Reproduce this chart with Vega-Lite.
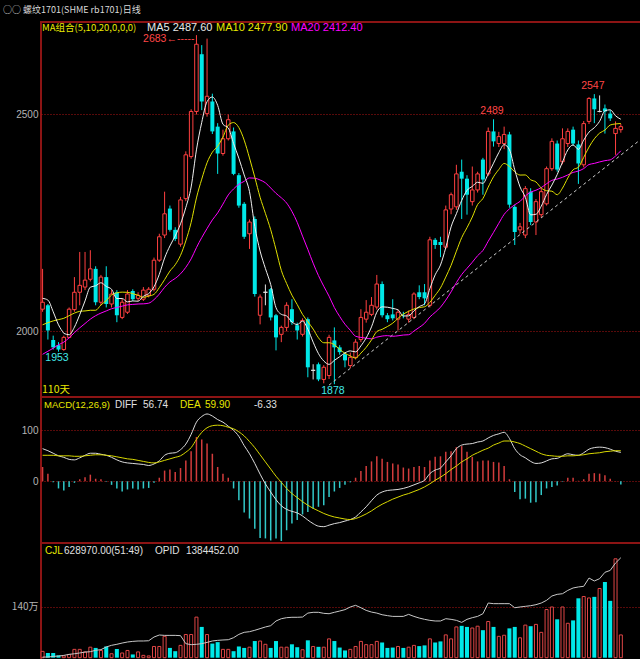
{
"$schema": "https://vega.github.io/schema/vega-lite/v6.json",
"background": "#000000",
"padding": {"left": 0, "right": 0, "top": 5, "bottom": 0},
"title": {"text": "○○ 螺纹1701(SHME rb1701)日线", "anchor": "start", "frame": "bounds", "font": "Noto Sans CJK SC", "fontSize": 9, "fontWeight": "normal", "color": "#d8d8d8", "offset": 6, "dx": 3},
"spacing": 0,
"bounds": "flush",
"config": {
  "view": {"stroke": "#8c1414", "strokeWidth": 2},
  "scale": {"continuousPadding": 0},
  "axis": {"labelColor": "#b4b4b4", "labelFont": "Liberation Sans", "labelFontSize": 10, "ticks": false, "domain": false, "grid": true, "gridColor": "#b01414", "gridDash": [1, 2], "gridOpacity": 1, "labelPadding": 3, "minExtent": 40, "maxExtent": 40, "format": "d"}
},
"datasets": {
"candles": [
{"day":0,"open":2051,"high":2144,"low":2045,"close":2067,"volume":175000,"oi":605000,"diff":64,"dea":51,"macd":28},
{"day":1,"open":2060,"high":2063,"low":1981,"close":2002,"volume":130000,"oi":605000,"diff":60,"dea":51,"macd":15},
{"day":2,"open":1980,"high":1990,"low":1958,"close":1963,"volume":130000,"oi":610000,"diff":55,"dea":51,"macd":-2},
{"day":3,"open":1968,"high":1975,"low":1953,"close":1958,"volume":65000,"oi":613000,"diff":50,"dea":50,"macd":-14},
{"day":4,"open":1958,"high":1990,"low":1955,"close":1986,"volume":50000,"oi":618000,"diff":47,"dea":50,"macd":-18},
{"day":5,"open":1986,"high":2055,"low":1984,"close":2051,"volume":90000,"oi":626000,"diff":43,"dea":50,"macd":-11},
{"day":6,"open":2050,"high":2125,"low":2045,"close":2090,"volume":230000,"oi":631000,"diff":42,"dea":49,"macd":-3},
{"day":7,"open":2090,"high":2183,"low":2060,"close":2106,"volume":230000,"oi":637000,"diff":46,"dea":49,"macd":4},
{"day":8,"open":2102,"high":2183,"low":2095,"close":2118,"volume":160000,"oi":644000,"diff":51,"dea":50,"macd":8},
{"day":9,"open":2120,"high":2187,"low":2115,"close":2144,"volume":290000,"oi":647000,"diff":55,"dea":51,"macd":13},
{"day":10,"open":2144,"high":2150,"low":2060,"close":2067,"volume":270000,"oi":658000,"diff":55,"dea":52,"macd":5},
{"day":11,"open":2067,"high":2130,"low":2060,"close":2125,"volume":200000,"oi":663000,"diff":53,"dea":52,"macd":4},
{"day":12,"open":2125,"high":2150,"low":2055,"close":2063,"volume":310000,"oi":684000,"diff":51,"dea":51,"macd":-1},
{"day":13,"open":2063,"high":2095,"low":2055,"close":2086,"volume":110000,"oi":697000,"diff":47,"dea":50,"macd":-7},
{"day":14,"open":2090,"high":2095,"low":2021,"close":2037,"volume":240000,"oi":705000,"diff":42,"dea":48,"macd":-14},
{"day":15,"open":2032,"high":2075,"low":2028,"close":2067,"volume":130000,"oi":715000,"diff":38,"dea":46,"macd":-20},
{"day":16,"open":2044,"high":2095,"low":2040,"close":2086,"volume":200000,"oi":723000,"diff":36,"dea":44,"macd":-16},
{"day":17,"open":2093,"high":2097,"low":2070,"close":2074,"volume":90000,"oi":728000,"diff":35,"dea":43,"macd":-14},
{"day":18,"open":2076,"high":2090,"low":2070,"close":2083,"volume":160000,"oi":731000,"diff":34,"dea":41,"macd":-16},
{"day":19,"open":2074,"high":2102,"low":2070,"close":2095,"volume":65000,"oi":731000,"diff":33,"dea":39,"macd":-14},
{"day":20,"open":2083,"high":2102,"low":2078,"close":2097,"volume":50000,"oi":733000,"diff":31,"dea":37,"macd":-13},
{"day":21,"open":2097,"high":2170,"low":2092,"close":2164,"volume":310000,"oi":762000,"diff":34,"dea":36,"macd":-3},
{"day":22,"open":2164,"high":2225,"low":2160,"close":2218,"volume":310000,"oi":778000,"diff":40,"dea":38,"macd":7},
{"day":23,"open":2222,"high":2322,"low":2215,"close":2271,"volume":590000,"oi":775000,"diff":51,"dea":41,"macd":21},
{"day":24,"open":2283,"high":2290,"low":2230,"close":2234,"volume":270000,"oi":775000,"diff":55,"dea":44,"macd":23},
{"day":25,"open":2234,"high":2240,"low":2208,"close":2213,"volume":180000,"oi":775000,"diff":56,"dea":47,"macd":18},
{"day":26,"open":2201,"high":2310,"low":2195,"close":2303,"volume":340000,"oi":773000,"diff":62,"dea":50,"macd":26},
{"day":27,"open":2306,"high":2415,"low":2300,"close":2407,"volume":640000,"oi":710000,"diff":73,"dea":57,"macd":41},
{"day":28,"open":2403,"high":2512,"low":2398,"close":2507,"volume":640000,"oi":702000,"diff":92,"dea":66,"macd":59},
{"day":29,"open":2507,"high":2683,"low":2500,"close":2662,"volume":1120000,"oi":705000,"diff":116,"dea":82,"macd":87},
{"day":30,"open":2639,"high":2660,"low":2510,"close":2530,"volume":850000,"oi":710000,"diff":127,"dea":96,"macd":82},
{"day":31,"open":2502,"high":2675,"low":2495,"close":2542,"volume":640000,"oi":720000,"diff":132,"dea":105,"macd":74},
{"day":32,"open":2530,"high":2548,"low":2455,"close":2461,"volume":390000,"oi":731000,"diff":128,"dea":109,"macd":54},
{"day":33,"open":2472,"high":2480,"low":2363,"close":2410,"volume":430000,"oi":736000,"diff":121,"dea":110,"macd":28},
{"day":34,"open":2410,"high":2465,"low":2405,"close":2444,"volume":230000,"oi":739000,"diff":116,"dea":109,"macd":15},
{"day":35,"open":2444,"high":2500,"low":2440,"close":2488,"volume":230000,"oi":741000,"diff":108,"dea":106,"macd":7},
{"day":36,"open":2461,"high":2470,"low":2360,"close":2363,"volume":180000,"oi":757000,"diff":100,"dea":103,"macd":-14},
{"day":37,"open":2360,"high":2365,"low":2285,"close":2290,"volume":310000,"oi":783000,"diff":88,"dea":97,"macd":-37},
{"day":38,"open":2294,"high":2298,"low":2213,"close":2218,"volume":270000,"oi":799000,"diff":70,"dea":89,"macd":-61},
{"day":39,"open":2225,"high":2258,"low":2190,"close":2252,"volume":290000,"oi":804000,"diff":54,"dea":78,"macd":-73},
{"day":40,"open":2259,"high":2265,"low":2080,"close":2086,"volume":460000,"oi":815000,"diff":35,"dea":66,"macd":-93},
{"day":41,"open":2037,"high":2085,"low":2016,"close":2079,"volume":460000,"oi":828000,"diff":14,"dea":52,"macd":-111},
{"day":42,"open":2090,"high":2108,"low":2060,"close":2090,"volume":370000,"oi":841000,"diff":-5,"dea":38,"macd":-112},
{"day":43,"open":2097,"high":2100,"low":2025,"close":2032,"volume":270000,"oi":851000,"diff":-21,"dea":24,"macd":-116},
{"day":44,"open":2037,"high":2040,"low":1956,"close":1986,"volume":460000,"oi":888000,"diff":-36,"dea":10,"macd":-112},
{"day":45,"open":1993,"high":2013,"low":1975,"close":2009,"volume":290000,"oi":906000,"diff":-48,"dea":-2,"macd":-117},
{"day":46,"open":2009,"high":2067,"low":2000,"close":2060,"volume":290000,"oi":914000,"diff":-55,"dea":-14,"macd":-96},
{"day":47,"open":2051,"high":2074,"low":2015,"close":2021,"volume":370000,"oi":917000,"diff":-59,"dea":-24,"macd":-83},
{"day":48,"open":2014,"high":2020,"low":1981,"close":2002,"volume":290000,"oi":917000,"diff":-62,"dea":-32,"macd":-76},
{"day":49,"open":1993,"high":2030,"low":1988,"close":2025,"volume":220000,"oi":919000,"diff":-68,"dea":-40,"macd":-65},
{"day":50,"open":2028,"high":2032,"low":1894,"close":1917,"volume":480000,"oi":950000,"diff":-76,"dea":-47,"macd":-60},
{"day":51,"open":1910,"high":1924,"low":1889,"close":1910,"volume":310000,"oi":956000,"diff":-83,"dea":-53,"macd":-54},
{"day":52,"open":1924,"high":1928,"low":1885,"close":1889,"volume":300000,"oi":956000,"diff":-88,"dea":-58,"macd":-50},
{"day":53,"open":1889,"high":1922,"low":1880,"close":1917,"volume":290000,"oi":948000,"diff":-89,"dea":-63,"macd":-47},
{"day":54,"open":1898,"high":1992,"low":1890,"close":1986,"volume":520000,"oi":945000,"diff":-86,"dea":-67,"macd":-31},
{"day":55,"open":1979,"high":2009,"low":1878,"close":1963,"volume":460000,"oi":956000,"diff":-83,"dea":-70,"macd":-20},
{"day":56,"open":1963,"high":1968,"low":1946,"close":1952,"volume":280000,"oi":966000,"diff":-81,"dea":-72,"macd":-13},
{"day":57,"open":1947,"high":1951,"low":1917,"close":1933,"volume":200000,"oi":977000,"diff":-78,"dea":-74,"macd":-7},
{"day":58,"open":1921,"high":1951,"low":1915,"close":1940,"volume":230000,"oi":998000,"diff":-75,"dea":-75,"macd":-2},
{"day":59,"open":1940,"high":1982,"low":1935,"close":1975,"volume":310000,"oi":1011000,"diff":-70,"dea":-73,"macd":7},
{"day":60,"open":1981,"high":2051,"low":1975,"close":2032,"volume":450000,"oi":992000,"diff":-60,"dea":-69,"macd":20},
{"day":61,"open":2028,"high":2072,"low":2020,"close":2044,"volume":360000,"oi":971000,"diff":-50,"dea":-64,"macd":30},
{"day":62,"open":2039,"high":2079,"low":2035,"close":2060,"volume":360000,"oi":958000,"diff":-38,"dea":-58,"macd":39},
{"day":63,"open":2056,"high":2130,"low":2050,"close":2109,"volume":450000,"oi":950000,"diff":-27,"dea":-51,"macd":49},
{"day":64,"open":2109,"high":2115,"low":2032,"close":2037,"volume":420000,"oi":937000,"diff":-21,"dea":-45,"macd":44},
{"day":65,"open":2037,"high":2042,"low":2021,"close":2028,"volume":270000,"oi":930000,"diff":-18,"dea":-40,"macd":38},
{"day":66,"open":2039,"high":2074,"low":2025,"close":2030,"volume":280000,"oi":924000,"diff":-17,"dea":-35,"macd":35},
{"day":67,"open":2028,"high":2050,"low":2002,"close":2044,"volume":310000,"oi":924000,"diff":-16,"dea":-31,"macd":33},
{"day":68,"open":2038,"high":2045,"low":2030,"close":2037,"volume":270000,"oi":924000,"diff":-14,"dea":-27,"macd":27},
{"day":69,"open":2028,"high":2048,"low":2020,"close":2039,"volume":290000,"oi":940000,"diff":-11,"dea":-24,"macd":25},
{"day":70,"open":2032,"high":2090,"low":2028,"close":2086,"volume":340000,"oi":924000,"diff":-7,"dea":-20,"macd":28},
{"day":71,"open":2090,"high":2106,"low":2074,"close":2079,"volume":320000,"oi":911000,"diff":-3,"dea":-16,"macd":30},
{"day":72,"open":2090,"high":2109,"low":2060,"close":2076,"volume":340000,"oi":901000,"diff":2,"dea":-11,"macd":28},
{"day":73,"open":2060,"high":2218,"low":2055,"close":2211,"volume":520000,"oi":893000,"diff":15,"dea":-5,"macd":41},
{"day":74,"open":2211,"high":2215,"low":2190,"close":2199,"volume":420000,"oi":888000,"diff":22,"dea":2,"macd":48},
{"day":75,"open":2206,"high":2218,"low":2171,"close":2199,"volume":450000,"oi":888000,"diff":26,"dea":8,"macd":49},
{"day":76,"open":2194,"high":2290,"low":2190,"close":2280,"volume":630000,"oi":906000,"diff":38,"dea":15,"macd":58},
{"day":77,"open":2282,"high":2320,"low":2270,"close":2315,"volume":520000,"oi":901000,"diff":50,"dea":23,"macd":59},
{"day":78,"open":2287,"high":2384,"low":2280,"close":2363,"volume":850000,"oi":893000,"diff":64,"dea":30,"macd":67},
{"day":79,"open":2368,"high":2396,"low":2259,"close":2352,"volume":880000,"oi":877000,"diff":71,"dea":38,"macd":69},
{"day":80,"open":2352,"high":2360,"low":2269,"close":2315,"volume":850000,"oi":901000,"diff":73,"dea":44,"macd":58},
{"day":81,"open":2299,"high":2380,"low":2290,"close":2326,"volume":820000,"oi":914000,"diff":74,"dea":51,"macd":48},
{"day":82,"open":2326,"high":2368,"low":2320,"close":2363,"volume":870000,"oi":924000,"diff":77,"dea":56,"macd":39},
{"day":83,"open":2396,"high":2400,"low":2315,"close":2350,"volume":760000,"oi":945000,"diff":79,"dea":61,"macd":41},
{"day":84,"open":2363,"high":2470,"low":2358,"close":2461,"volume":1000000,"oi":1029000,"diff":85,"dea":65,"macd":41},
{"day":85,"open":2461,"high":2489,"low":2426,"close":2438,"volume":850000,"oi":1024000,"diff":90,"dea":71,"macd":38},
{"day":86,"open":2433,"high":2460,"low":2425,"close":2449,"volume":590000,"oi":1024000,"diff":93,"dea":75,"macd":37},
{"day":87,"open":2433,"high":2472,"low":2420,"close":2454,"volume":620000,"oi":1024000,"diff":96,"dea":79,"macd":30},
{"day":88,"open":2454,"high":2460,"low":2285,"close":2292,"volume":810000,"oi":1024000,"diff":84,"dea":79,"macd":4},
{"day":89,"open":2287,"high":2292,"low":2199,"close":2229,"volume":850000,"oi":992000,"diff":64,"dea":77,"macd":-21},
{"day":90,"open":2234,"high":2250,"low":2225,"close":2241,"volume":550000,"oi":998000,"diff":52,"dea":74,"macd":-35},
{"day":91,"open":2222,"high":2335,"low":2215,"close":2329,"volume":900000,"oi":1003000,"diff":46,"dea":69,"macd":-34},
{"day":92,"open":2322,"high":2330,"low":2245,"close":2252,"volume":870000,"oi":1008000,"diff":39,"dea":64,"macd":-42},
{"day":93,"open":2252,"high":2305,"low":2222,"close":2299,"volume":920000,"oi":1016000,"diff":35,"dea":59,"macd":-41},
{"day":94,"open":2269,"high":2330,"low":2262,"close":2322,"volume":700000,"oi":1029000,"diff":36,"dea":54,"macd":-27},
{"day":95,"open":2294,"high":2380,"low":2290,"close":2375,"volume":1330000,"oi":1050000,"diff":40,"dea":51,"macd":-14},
{"day":96,"open":2375,"high":2445,"low":2370,"close":2438,"volume":1400000,"oi":1084000,"diff":44,"dea":50,"macd":-11},
{"day":97,"open":2433,"high":2440,"low":2368,"close":2373,"volume":1060000,"oi":1097000,"diff":45,"dea":49,"macd":-8},
{"day":98,"open":2391,"high":2468,"low":2385,"close":2444,"volume":1400000,"oi":1102000,"diff":50,"dea":49,"macd":-1},
{"day":99,"open":2433,"high":2468,"low":2425,"close":2461,"volume":950000,"oi":1128000,"diff":54,"dea":50,"macd":7},
{"day":100,"open":2465,"high":2472,"low":2428,"close":2433,"volume":1030000,"oi":1147000,"diff":52,"dea":50,"macd":7},
{"day":101,"open":2431,"high":2440,"low":2340,"close":2387,"volume":1640000,"oi":1155000,"diff":51,"dea":51,"macd":1},
{"day":102,"open":2384,"high":2485,"low":2378,"close":2479,"volume":1690000,"oi":1160000,"diff":56,"dea":52,"macd":4},
{"day":103,"open":2484,"high":2540,"low":2478,"close":2537,"volume":1650000,"oi":1225000,"diff":63,"dea":54,"macd":15},
{"day":104,"open":2537,"high":2547,"low":2480,"close":2512,"volume":1680000,"oi":1202000,"diff":66,"dea":55,"macd":16},
{"day":105,"open":2507,"high":2544,"low":2505,"close":2507,"volume":1910000,"oi":1220000,"diff":67,"dea":56,"macd":15},
{"day":106,"open":2514,"high":2523,"low":2456,"close":2507,"volume":2090000,"oi":1270000,"diff":66,"dea":58,"macd":12},
{"day":107,"open":2502,"high":2510,"low":2485,"close":2491,"volume":1570000,"oi":1285000,"diff":63,"dea":59,"macd":5},
{"day":108,"open":2456,"high":2484,"low":2407,"close":2468,"volume":2730000,"oi":1343000,"diff":59,"dea":60,"macd":0.5},
{"day":109,"open":2465,"high":2478,"low":2458,"close":2472,"volume":628970,"oi":1384452,"diff":56.74,"dea":59.9,"macd":-6.33}
],
"ma_early": [
{"line":"MA5","day":0,"value":2076},{"line":"MA5","day":1,"value":2072},{"line":"MA5","day":2,"value":2045},{"line":"MA5","day":3,"value":2015},{"line":"MA5","day":4,"value":1995.2},
{"line":"MA10","day":0,"value":2015},{"line":"MA10","day":1,"value":2020},{"line":"MA10","day":2,"value":2024},{"line":"MA10","day":3,"value":2027},{"line":"MA10","day":4,"value":2030},{"line":"MA10","day":5,"value":2036},{"line":"MA10","day":6,"value":2042},{"line":"MA10","day":7,"value":2046},{"line":"MA10","day":8,"value":2047},{"line":"MA10","day":9,"value":2048.5},
{"line":"MA20","day":0,"value":1947},{"line":"MA20","day":1,"value":1954},{"line":"MA20","day":2,"value":1961},{"line":"MA20","day":3,"value":1969},{"line":"MA20","day":4,"value":1975},{"line":"MA20","day":5,"value":1985},{"line":"MA20","day":6,"value":1997},{"line":"MA20","day":7,"value":2008},{"line":"MA20","day":8,"value":2018},{"line":"MA20","day":9,"value":2028},{"line":"MA20","day":10,"value":2036},{"line":"MA20","day":11,"value":2042},{"line":"MA20","day":12,"value":2047},{"line":"MA20","day":13,"value":2052},{"line":"MA20","day":14,"value":2055},{"line":"MA20","day":15,"value":2058},{"line":"MA20","day":16,"value":2061},{"line":"MA20","day":17,"value":2062},{"line":"MA20","day":18,"value":2063},{"line":"MA20","day":19,"value":2063.4}
],
"trend": [{"day": 54, "price": 1876}, {"day": 112.8, "price": 2443}],
"notes": [
{"day": 29, "price": 2683, "label": "2683←-----", "kind": "peak"},
{"day": 85, "price": 2489, "label": "2489", "kind": "high"},
{"day": 104, "price": 2547, "label": "2547", "kind": "high"},
{"day": 3, "price": 1953, "label": "1953", "kind": "low"},
{"day": 55, "price": 1878, "label": "1878", "kind": "low"}
]
},
"vconcat": [
{
"width": 600, "height": 375,
"layer": [
{"data": {"name": "candles"}, "mark": {"type": "rule", "strokeWidth": 1},
 "encoding": {
  "x": {"field": "day", "type": "quantitative", "scale": {"domain": [-0.3, 112.8], "nice": false, "zero": false, "padding": 0}, "axis": null},
  "y": {"field": "low", "type": "quantitative", "title": null, "scale": {"domain": [1848.5, 2713.3], "nice": false, "zero": false}, "axis": {"values": [2000, 2500]}},
  "y2": {"field": "high"},
  "color": {"condition": [{"test": "datum.close > datum.open", "value": "#ff4040"}, {"test": "datum.close == datum.open", "value": "#e0e0e0"}], "value": "#00e8e8"}}},
{"data": {"name": "candles"}, "transform": [{"filter": "datum.close > datum.open"}],
 "mark": {"type": "bar", "size": 3.5, "fill": "#000000", "stroke": "#ff4040", "strokeWidth": 1},
 "encoding": {
  "x": {"field": "day", "type": "quantitative", "scale": {"domain": [-0.3, 112.8], "nice": false, "zero": false, "padding": 0}, "axis": null},
  "y": {"field": "open", "type": "quantitative", "title": null, "scale": {"domain": [1848.5, 2713.3], "nice": false, "zero": false}, "axis": {"values": [2000, 2500]}},
  "y2": {"field": "close"}}},
{"data": {"name": "candles"}, "transform": [{"filter": "datum.close < datum.open"}],
 "mark": {"type": "bar", "size": 4, "fill": "#00e8e8"},
 "encoding": {
  "x": {"field": "day", "type": "quantitative", "scale": {"domain": [-0.3, 112.8], "nice": false, "zero": false, "padding": 0}, "axis": null},
  "y": {"field": "open", "type": "quantitative", "title": null, "scale": {"domain": [1848.5, 2713.3], "nice": false, "zero": false}, "axis": {"values": [2000, 2500]}},
  "y2": {"field": "close"}}},
{"data": {"name": "candles"}, "transform": [{"filter": "datum.close == datum.open"}],
 "mark": {"type": "bar", "size": 4, "fill": "#e0e0e0", "stroke": "#e0e0e0", "strokeWidth": 1},
 "encoding": {
  "x": {"field": "day", "type": "quantitative", "scale": {"domain": [-0.3, 112.8], "nice": false, "zero": false, "padding": 0}, "axis": null},
  "y": {"field": "open", "type": "quantitative", "title": null, "scale": {"domain": [1848.5, 2713.3], "nice": false, "zero": false}, "axis": {"values": [2000, 2500]}},
  "y2": {"field": "close"}}},
{"data": {"name": "trend"}, "mark": {"type": "line", "color": "#d0d0d0", "strokeWidth": 1, "strokeDash": [3, 3]},
 "encoding": {
  "x": {"field": "day", "type": "quantitative", "scale": {"domain": [-0.3, 112.8], "nice": false, "zero": false, "padding": 0}, "axis": null},
  "y": {"field": "price", "type": "quantitative", "title": null, "scale": {"domain": [1848.5, 2713.3], "nice": false, "zero": false}, "axis": {"values": [2000, 2500]}}}},
{"data": {"name": "candles"}, "transform": [{"window": [{"op": "mean", "field": "close", "as": "ma"}], "frame": [-19, 0], "sort": [{"field": "day", "order": "ascending"}]}, {"filter": "datum.day >= 19"}],
 "mark": {"type": "line", "color": "#ff00ff", "strokeWidth": 1, "interpolate": "monotone"},
 "encoding": {
  "x": {"field": "day", "type": "quantitative", "scale": {"domain": [-0.3, 112.8], "nice": false, "zero": false, "padding": 0}, "axis": null},
  "y": {"field": "ma", "type": "quantitative", "title": null, "scale": {"domain": [1848.5, 2713.3], "nice": false, "zero": false}, "axis": {"values": [2000, 2500]}}}},
{"data": {"name": "ma_early"}, "transform": [{"filter": "datum.line == 'MA20'"}],
 "mark": {"type": "line", "color": "#ff00ff", "strokeWidth": 1, "interpolate": "monotone"},
 "encoding": {
  "x": {"field": "day", "type": "quantitative", "scale": {"domain": [-0.3, 112.8], "nice": false, "zero": false, "padding": 0}, "axis": null},
  "y": {"field": "value", "type": "quantitative", "title": null, "scale": {"domain": [1848.5, 2713.3], "nice": false, "zero": false}, "axis": {"values": [2000, 2500]}}}},
{"data": {"name": "candles"}, "transform": [{"window": [{"op": "mean", "field": "close", "as": "ma"}], "frame": [-9, 0], "sort": [{"field": "day", "order": "ascending"}]}, {"filter": "datum.day >= 9"}],
 "mark": {"type": "line", "color": "#e0e000", "strokeWidth": 1, "interpolate": "monotone"},
 "encoding": {
  "x": {"field": "day", "type": "quantitative", "scale": {"domain": [-0.3, 112.8], "nice": false, "zero": false, "padding": 0}, "axis": null},
  "y": {"field": "ma", "type": "quantitative", "title": null, "scale": {"domain": [1848.5, 2713.3], "nice": false, "zero": false}, "axis": {"values": [2000, 2500]}}}},
{"data": {"name": "ma_early"}, "transform": [{"filter": "datum.line == 'MA10'"}],
 "mark": {"type": "line", "color": "#e0e000", "strokeWidth": 1, "interpolate": "monotone"},
 "encoding": {
  "x": {"field": "day", "type": "quantitative", "scale": {"domain": [-0.3, 112.8], "nice": false, "zero": false, "padding": 0}, "axis": null},
  "y": {"field": "value", "type": "quantitative", "title": null, "scale": {"domain": [1848.5, 2713.3], "nice": false, "zero": false}, "axis": {"values": [2000, 2500]}}}},
{"data": {"name": "candles"}, "transform": [{"window": [{"op": "mean", "field": "close", "as": "ma"}], "frame": [-4, 0], "sort": [{"field": "day", "order": "ascending"}]}, {"filter": "datum.day >= 4"}],
 "mark": {"type": "line", "color": "#f0f0f0", "strokeWidth": 1, "interpolate": "monotone"},
 "encoding": {
  "x": {"field": "day", "type": "quantitative", "scale": {"domain": [-0.3, 112.8], "nice": false, "zero": false, "padding": 0}, "axis": null},
  "y": {"field": "ma", "type": "quantitative", "title": null, "scale": {"domain": [1848.5, 2713.3], "nice": false, "zero": false}, "axis": {"values": [2000, 2500]}}}},
{"data": {"name": "ma_early"}, "transform": [{"filter": "datum.line == 'MA5'"}],
 "mark": {"type": "line", "color": "#f0f0f0", "strokeWidth": 1, "interpolate": "monotone"},
 "encoding": {
  "x": {"field": "day", "type": "quantitative", "scale": {"domain": [-0.3, 112.8], "nice": false, "zero": false, "padding": 0}, "axis": null},
  "y": {"field": "value", "type": "quantitative", "title": null, "scale": {"domain": [1848.5, 2713.3], "nice": false, "zero": false}, "axis": {"values": [2000, 2500]}}}},
{"data": {"name": "notes"}, "transform": [{"filter": "datum.kind == 'peak'"}],
 "mark": {"type": "text", "align": "right", "baseline": "middle", "dx": -2, "dy": 4, "color": "#ff4646", "font": "Liberation Sans", "fontSize": 10.5},
 "encoding": {
  "x": {"field": "day", "type": "quantitative", "scale": {"domain": [-0.3, 112.8], "nice": false, "zero": false, "padding": 0}, "axis": null},
  "y": {"field": "price", "type": "quantitative", "title": null, "scale": {"domain": [1848.5, 2713.3], "nice": false, "zero": false}, "axis": {"values": [2000, 2500]}},
  "text": {"field": "label"}}},
{"data": {"name": "notes"}, "transform": [{"filter": "datum.kind == 'high'"}],
 "mark": {"type": "text", "align": "center", "baseline": "bottom", "dx": -1.5, "dy": -3, "color": "#ff4646", "font": "Liberation Sans", "fontSize": 10.5},
 "encoding": {
  "x": {"field": "day", "type": "quantitative", "scale": {"domain": [-0.3, 112.8], "nice": false, "zero": false, "padding": 0}, "axis": null},
  "y": {"field": "price", "type": "quantitative", "title": null, "scale": {"domain": [1848.5, 2713.3], "nice": false, "zero": false}, "axis": {"values": [2000, 2500]}},
  "text": {"field": "label"}}},
{"data": {"name": "notes"}, "transform": [{"filter": "datum.kind == 'low'"}],
 "mark": {"type": "text", "align": "center", "baseline": "top", "dx": -1.5, "dy": 1.5, "color": "#40e8e8", "font": "Liberation Sans", "fontSize": 10.5},
 "encoding": {
  "x": {"field": "day", "type": "quantitative", "scale": {"domain": [-0.3, 112.8], "nice": false, "zero": false, "padding": 0}, "axis": null},
  "y": {"field": "price", "type": "quantitative", "title": null, "scale": {"domain": [1848.5, 2713.3], "nice": false, "zero": false}, "axis": {"values": [2000, 2500]}},
  "text": {"field": "label"}}},
{"data": {"values": [{}]}, "mark": {"type": "text", "text": "MA组合(5,10,20,0,0,0)", "align": "left", "baseline": "middle", "color": "#e8e800", "font": "Noto Sans CJK SC", "fontSize": 9.5},
 "encoding": {"x": {"datum": -0.11, "type": "quantitative", "scale": {"domain": [-0.3, 112.8], "nice": false, "zero": false, "padding": 0}, "axis": null}, "y": {"datum": 2699.5, "type": "quantitative", "title": null, "scale": {"domain": [1848.5, 2713.3], "nice": false, "zero": false}, "axis": {"values": [2000, 2500]}}}},
{"data": {"values": [{}]}, "mark": {"type": "text", "text": "MA5 2487.60", "align": "left", "baseline": "middle", "color": "#e8e8e8", "font": "Liberation Sans", "fontSize": 11},
 "encoding": {"x": {"datum": 19.68, "type": "quantitative", "scale": {"domain": [-0.3, 112.8], "nice": false, "zero": false, "padding": 0}, "axis": null}, "y": {"datum": 2699.5, "type": "quantitative", "title": null, "scale": {"domain": [1848.5, 2713.3], "nice": false, "zero": false}, "axis": {"values": [2000, 2500]}}}},
{"data": {"values": [{}]}, "mark": {"type": "text", "text": "MA10 2477.90", "align": "left", "baseline": "middle", "color": "#e8e800", "font": "Liberation Sans", "fontSize": 11},
 "encoding": {"x": {"datum": 32.69, "type": "quantitative", "scale": {"domain": [-0.3, 112.8], "nice": false, "zero": false, "padding": 0}, "axis": null}, "y": {"datum": 2699.5, "type": "quantitative", "title": null, "scale": {"domain": [1848.5, 2713.3], "nice": false, "zero": false}, "axis": {"values": [2000, 2500]}}}},
{"data": {"values": [{}]}, "mark": {"type": "text", "text": "MA20 2412.40", "align": "left", "baseline": "middle", "color": "#ff00ff", "font": "Liberation Sans", "fontSize": 11},
 "encoding": {"x": {"datum": 46.83, "type": "quantitative", "scale": {"domain": [-0.3, 112.8], "nice": false, "zero": false, "padding": 0}, "axis": null}, "y": {"datum": 2699.5, "type": "quantitative", "title": null, "scale": {"domain": [1848.5, 2713.3], "nice": false, "zero": false}, "axis": {"values": [2000, 2500]}}}},
{"data": {"values": [{}]}, "mark": {"type": "text", "text": "110天", "align": "left", "baseline": "middle", "color": "#e8e800", "font": "Noto Sans CJK SC", "fontSize": 10.5},
 "encoding": {"x": {"datum": -0.11, "type": "quantitative", "scale": {"domain": [-0.3, 112.8], "nice": false, "zero": false, "padding": 0}, "axis": null}, "y": {"datum": 1864.7, "type": "quantitative", "title": null, "scale": {"domain": [1848.5, 2713.3], "nice": false, "zero": false}, "axis": {"values": [2000, 2500]}}}}
]
},
{
"width": 600, "height": 146,
"layer": [
{"data": {"name": "candles"}, "mark": {"type": "rule", "strokeWidth": 1.5},
 "encoding": {
  "x": {"field": "day", "type": "quantitative", "scale": {"domain": [-0.3, 112.8], "nice": false, "zero": false, "padding": 0}, "axis": null},
  "y": {"field": "macd", "type": "quantitative", "title": null, "scale": {"domain": [-121, 165.3], "nice": false, "zero": false}, "axis": {"values": [0, 100]}},
  "y2": {"datum": 0},
  "color": {"condition": {"test": "datum.macd >= 0", "value": "#d23c3c"}, "value": "#32c8c8"}}},
{"data": {"name": "candles"}, "mark": {"type": "line", "color": "#dcdcdc", "strokeWidth": 1, "interpolate": "monotone"},
 "encoding": {
  "x": {"field": "day", "type": "quantitative", "scale": {"domain": [-0.3, 112.8], "nice": false, "zero": false, "padding": 0}, "axis": null},
  "y": {"field": "diff", "type": "quantitative", "title": null, "scale": {"domain": [-121, 165.3], "nice": false, "zero": false}, "axis": {"values": [0, 100]}}}},
{"data": {"name": "candles"}, "mark": {"type": "line", "color": "#d8d800", "strokeWidth": 1, "interpolate": "monotone"},
 "encoding": {
  "x": {"field": "day", "type": "quantitative", "scale": {"domain": [-0.3, 112.8], "nice": false, "zero": false, "padding": 0}, "axis": null},
  "y": {"field": "dea", "type": "quantitative", "title": null, "scale": {"domain": [-121, 165.3], "nice": false, "zero": false}, "axis": {"values": [0, 100]}}}},
{"data": {"values": [{}]}, "mark": {"type": "text", "text": "MACD(12,26,9)", "align": "left", "baseline": "middle", "color": "#e8e800", "font": "Liberation Sans", "fontSize": 9.5},
 "encoding": {"x": {"datum": 0.27, "type": "quantitative", "scale": {"domain": [-0.3, 112.8], "nice": false, "zero": false, "padding": 0}, "axis": null}, "y": {"datum": 149.6, "type": "quantitative", "title": null, "scale": {"domain": [-121, 165.3], "nice": false, "zero": false}, "axis": {"values": [0, 100]}}}},
{"data": {"values": [{}]}, "mark": {"type": "text", "text": "DIFF", "align": "left", "baseline": "middle", "color": "#e0e0e0", "font": "Liberation Sans", "fontSize": 10},
 "encoding": {"x": {"datum": 13.65, "type": "quantitative", "scale": {"domain": [-0.3, 112.8], "nice": false, "zero": false, "padding": 0}, "axis": null}, "y": {"datum": 149.6, "type": "quantitative", "title": null, "scale": {"domain": [-121, 165.3], "nice": false, "zero": false}, "axis": {"values": [0, 100]}}}},
{"data": {"values": [{}]}, "mark": {"type": "text", "text": "56.74", "align": "left", "baseline": "middle", "color": "#e0e0e0", "font": "Liberation Sans", "fontSize": 10},
 "encoding": {"x": {"datum": 18.93, "type": "quantitative", "scale": {"domain": [-0.3, 112.8], "nice": false, "zero": false, "padding": 0}, "axis": null}, "y": {"datum": 149.6, "type": "quantitative", "title": null, "scale": {"domain": [-121, 165.3], "nice": false, "zero": false}, "axis": {"values": [0, 100]}}}},
{"data": {"values": [{}]}, "mark": {"type": "text", "text": "DEA", "align": "left", "baseline": "middle", "color": "#e8e800", "font": "Liberation Sans", "fontSize": 10},
 "encoding": {"x": {"datum": 25.9, "type": "quantitative", "scale": {"domain": [-0.3, 112.8], "nice": false, "zero": false, "padding": 0}, "axis": null}, "y": {"datum": 149.6, "type": "quantitative", "title": null, "scale": {"domain": [-121, 165.3], "nice": false, "zero": false}, "axis": {"values": [0, 100]}}}},
{"data": {"values": [{}]}, "mark": {"type": "text", "text": "59.90", "align": "left", "baseline": "middle", "color": "#e8e800", "font": "Liberation Sans", "fontSize": 10},
 "encoding": {"x": {"datum": 30.61, "type": "quantitative", "scale": {"domain": [-0.3, 112.8], "nice": false, "zero": false, "padding": 0}, "axis": null}, "y": {"datum": 149.6, "type": "quantitative", "title": null, "scale": {"domain": [-121, 165.3], "nice": false, "zero": false}, "axis": {"values": [0, 100]}}}},
{"data": {"values": [{}]}, "mark": {"type": "text", "text": "-6.33", "align": "left", "baseline": "middle", "color": "#e0e0e0", "font": "Liberation Sans", "fontSize": 10},
 "encoding": {"x": {"datum": 39.85, "type": "quantitative", "scale": {"domain": [-0.3, 112.8], "nice": false, "zero": false, "padding": 0}, "axis": null}, "y": {"datum": 149.6, "type": "quantitative", "title": null, "scale": {"domain": [-121, 165.3], "nice": false, "zero": false}, "axis": {"values": [0, 100]}}}}
]
},
{
"width": 600, "height": 118,
"resolve": {"scale": {"y": "independent"}},
"layer": [
{"data": {"name": "candles"}, "transform": [{"filter": "datum.close >= datum.open"}],
 "mark": {"type": "bar", "size": 3, "fill": "#000000", "stroke": "#e04646", "strokeWidth": 1},
 "encoding": {
  "x": {"field": "day", "type": "quantitative", "scale": {"domain": [-0.3, 112.8], "nice": false, "zero": false, "padding": 0}, "axis": null},
  "y": {"field": "volume", "type": "quantitative", "title": null, "scale": {"domain": [-91000, 3167000], "nice": false, "zero": false}, "axis": {"values": [1400000], "labelExpr": "'140万'", "labelFont": "Noto Sans CJK SC"}},
  "y2": {"datum": 0}}},
{"data": {"name": "candles"}, "transform": [{"filter": "datum.close < datum.open"}],
 "mark": {"type": "bar", "size": 4, "fill": "#00e8e8"},
 "encoding": {
  "x": {"field": "day", "type": "quantitative", "scale": {"domain": [-0.3, 112.8], "nice": false, "zero": false, "padding": 0}, "axis": null},
  "y": {"field": "volume", "type": "quantitative", "scale": {"domain": [-91000, 3167000], "nice": false, "zero": false}, "axis": null},
  "y2": {"datum": 0}}},
{"data": {"name": "candles"}, "mark": {"type": "line", "color": "#c8c8c8", "strokeWidth": 1},
 "encoding": {
  "x": {"field": "day", "type": "quantitative", "scale": {"domain": [-0.3, 112.8], "nice": false, "zero": false, "padding": 0}, "axis": null},
  "y": {"field": "oi", "type": "quantitative", "scale": {"domain": [574000, 1500000], "nice": false, "zero": false}, "axis": null}}},
{"data": {"values": [{}]}, "mark": {"type": "text", "text": "CJL", "align": "left", "baseline": "middle", "color": "#e8e800", "font": "Liberation Sans", "fontSize": 10},
 "encoding": {"x": {"datum": 0.45, "type": "quantitative", "scale": {"domain": [-0.3, 112.8], "nice": false, "zero": false, "padding": 0}, "axis": null}, "y": {"datum": 2946000, "type": "quantitative", "scale": {"domain": [-91000, 3167000], "nice": false, "zero": false}, "axis": null}}},
{"data": {"values": [{}]}, "mark": {"type": "text", "text": "628970.00(51:49)", "align": "left", "baseline": "middle", "color": "#e0e0e0", "font": "Liberation Sans", "fontSize": 10},
 "encoding": {"x": {"datum": 4.04, "type": "quantitative", "scale": {"domain": [-0.3, 112.8], "nice": false, "zero": false, "padding": 0}, "axis": null}, "y": {"datum": 2946000, "type": "quantitative", "scale": {"domain": [-91000, 3167000], "nice": false, "zero": false}, "axis": null}}},
{"data": {"values": [{}]}, "mark": {"type": "text", "text": "OPID", "align": "left", "baseline": "middle", "color": "#e0e0e0", "font": "Liberation Sans", "fontSize": 10},
 "encoding": {"x": {"datum": 21.19, "type": "quantitative", "scale": {"domain": [-0.3, 112.8], "nice": false, "zero": false, "padding": 0}, "axis": null}, "y": {"datum": 2946000, "type": "quantitative", "scale": {"domain": [-91000, 3167000], "nice": false, "zero": false}, "axis": null}}},
{"data": {"values": [{}]}, "mark": {"type": "text", "text": "1384452.00", "align": "left", "baseline": "middle", "color": "#e0e0e0", "font": "Liberation Sans", "fontSize": 10},
 "encoding": {"x": {"datum": 27.03, "type": "quantitative", "scale": {"domain": [-0.3, 112.8], "nice": false, "zero": false, "padding": 0}, "axis": null}, "y": {"datum": 2946000, "type": "quantitative", "scale": {"domain": [-91000, 3167000], "nice": false, "zero": false}, "axis": null}}}
]
}
]
}
